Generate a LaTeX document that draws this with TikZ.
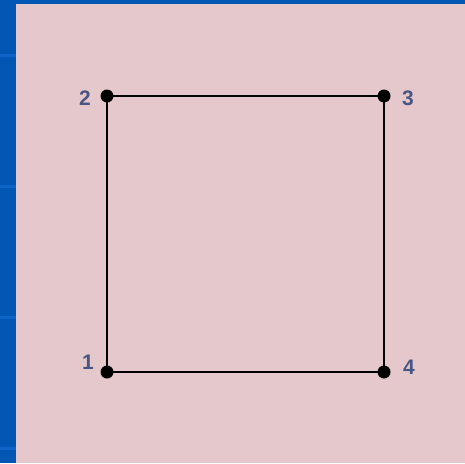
\documentclass[tikz,border=0pt]{standalone}
\usepackage{fontspec}
\setmainfont{Liberation Sans}
\definecolor{bgblue}{HTML}{0256B4}
\definecolor{stripe}{HTML}{0F64C8}
\definecolor{pinkbg}{HTML}{E4C8CC}
\definecolor{lbl}{HTML}{4A5682}
\begin{document}
\begin{tikzpicture}[x=1pt,y=-1pt,
  vtx/.style={circle,fill=black,inner sep=0pt,minimum size=13pt},
  lab/.style={text=lbl,font=\bfseries\fontsize{21}{21}\selectfont,inner sep=0pt},
  edge/.style={line width=2.2pt,black}]
\fill[bgblue] (0,0) rectangle (465,463);
\foreach \yy in {55,186,317,448} \fill[stripe] (0,\yy-1.5) rectangle (16,\yy+1.5);
\fill[pinkbg] (16,4) rectangle (465,463);
\useasboundingbox (0,0) rectangle (465,463);
\node[vtx] (n1) at (107,372) {};
\node[vtx] (n2) at (107,96) {};
\node[vtx] (n3) at (384,96) {};
\node[vtx] (n4) at (384,372) {};
\draw[edge] (n1.center) -- (n2.center) -- (n3.center) -- (n4.center) -- cycle;
\node[lab] (l1) at (88,362) {1};
\node[lab] (l2) at (85,98) {2};
\node[lab] (l3) at (408,98) {3};
\node[lab] (l4) at (409,367) {4};
\end{tikzpicture}
\end{document}
